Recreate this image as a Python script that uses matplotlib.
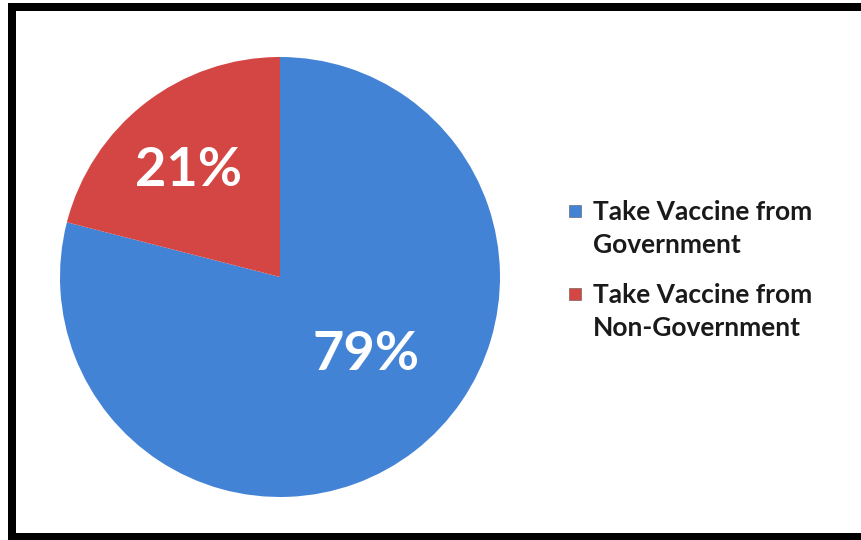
import matplotlib.pyplot as plt
from matplotlib.lines import Line2D

# data
labels = ["Take Vaccine from\nGovernment", "Take Vaccine from\nNon-Government"]
shares = [79, 21]
pct_text = ["79%", "21%"]
colors = ["#4383D6", "#D44644"]

W, H = 862, 540
fig = plt.figure(figsize=(W / 100, H / 100), dpi=100)
ax = fig.add_axes([0, 0, 1, 1])

wedges, _ = ax.pie(shares, colors=colors, startangle=90, counterclock=False,
                   center=(280, H - 277), radius=220,
                   wedgeprops=dict(edgecolor="none", linewidth=0))
ax.set_xlim(0, W)
ax.set_ylim(0, H)
ax.set_aspect("equal")
ax.axis("off")

# percentage labels inside the slices
label_pos = [(366, 355), (189, 170)]
for txt, (x, y) in zip(pct_text, label_pos):
    ax.text(x, H - y, txt, color="white", fontsize=39, fontweight="bold",
            family="Lato", ha="center", va="center")

# legend on the right, marker lined up with the first text line
for i, (lab, col) in enumerate(zip(labels, colors)):
    y = 211 + i * 83
    ax.scatter([575], [H - y], marker="s", s=80, color=col,
               edgecolors="#555555", linewidths=0.4, zorder=3)
    ax.text(593, H - (y - 11), lab, fontsize=19, fontweight="bold", family="Lato",
            color="#1a1a1a", ha="left", va="top", linespacing=1.45)

# thick black frame (right side cut off in the reference)
lw = 8 * 72 / 100
frame = [((12, 12), (3, 540)), ((8, 862), (6.5, 6.5)), ((8, 862), (537, 537))]
for xs, ys in frame:
    fig.add_artist(Line2D([x / W for x in xs], [1 - y / H for y in ys],
                          transform=fig.transFigure, color="black", linewidth=lw,
                          solid_capstyle="butt"))

fig.savefig("out.png", dpi=100)
